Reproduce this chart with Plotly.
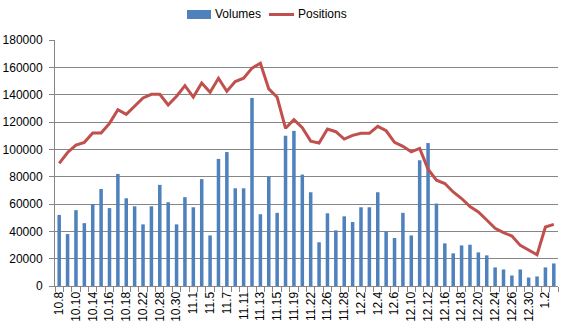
import plotly.graph_objects as go

dates = ["10.8", "10.9", "10.10", "10.11", "10.14", "10.15", "10.16", "10.17", "10.18", "10.21",
         "10.22", "10.24", "10.28", "10.29", "10.30", "10.31", "11.1", "11.4", "11.5", "11.6",
         "11.7", "11.8", "11.11", "11.12", "11.13", "11.14", "11.15", "11.18", "11.19", "11.20",
         "11.22", "11.25", "11.26", "11.27", "11.28", "11.29", "12.2", "12.3", "12.4", "12.5",
         "12.6", "12.9", "12.10", "12.11", "12.12", "12.13", "12.16", "12.17", "12.18", "12.19",
         "12.20", "12.23", "12.24", "12.25", "12.26", "12.27", "12.30", "12.31", "1.2", "1.3"]

volumes = [52000, 38000, 55500, 46000, 60000, 71000, 57000, 82000, 64200, 58300,
           45100, 58300, 74000, 61300, 45100, 65000, 57600, 78200, 37000, 93000,
           98000, 71500, 71500, 137600, 52500, 80000, 53500, 110000, 113500, 81500,
           68600, 32000, 53200, 40700, 51000, 46800, 57600, 57600, 68600, 39800,
           35100, 53500, 37000, 92000, 104600, 60300, 31200, 23900, 29700, 30200,
           24600, 22400, 13600, 12100, 7700, 12100, 6200, 7000, 13600, 16500]

positions = [89700, 97700, 103100, 105100, 111900, 111900, 119000, 129000, 125600, 131500,
             137600, 140300, 140300, 132500, 138900, 146600, 138200, 148600, 141800, 152000,
             142500, 149600, 152000, 159400, 163000, 144200, 138100, 115400, 121700, 115800,
             106000, 104600, 114900, 112900, 107500, 110200, 111700, 111700, 116800, 113600,
             105100, 102200, 98200, 100700, 85500, 77400, 75000, 68800, 64000, 58100,
             54200, 48300, 42200, 39000, 36600, 29700, 26000, 22900, 43200, 45100]

series_names = ["Volumes", "Positions"]
tick_text = [d if i % 2 == 0 else "" for i, d in enumerate(dates)]

FONT = "Liberation Sans, Arial, sans-serif"
GRID = "#868686"
BAR_C = "#4F81BD"
LINE_C = "#C0504D"

fig = go.Figure()
fig.add_trace(go.Bar(x=dates, y=volumes, name=series_names[0], marker_color=BAR_C,
                     marker_line_width=0, showlegend=False))
fig.add_trace(go.Scatter(x=dates, y=positions, name=series_names[1], mode="lines",
                         line=dict(color=LINE_C, width=3), showlegend=False))

W, H = 566, 332
ML, MR, MT, MB = 55, 8, 40, 46
PW, PH = W - ML - MR, H - MT - MB


def px(x):
    return (x - ML) / PW


def py(y):
    return (H - MB - y) / PH


# Legend drawn in paper coordinates (Excel-style wide swatch)
shapes = [
    dict(type="rect", xref="paper", yref="paper", x0=px(187), x1=px(211), y0=py(19), y1=py(10),
         fillcolor=BAR_C, line=dict(width=0)),
    dict(type="line", xref="paper", yref="paper", x0=px(269), x1=px(294), y0=py(14.5), y1=py(14.5),
         line=dict(color=LINE_C, width=3)),
]
annotations = [
    dict(text=series_names[0], xref="paper", yref="paper", x=px(213), y=py(14.5),
         xanchor="left", yanchor="middle", showarrow=False, font=dict(size=12)),
    dict(text=series_names[1], xref="paper", yref="paper", x=px(296), y=py(14.5),
         xanchor="left", yanchor="middle", showarrow=False, font=dict(size=12)),
]

fig.update_layout(
    width=W, height=H,
    margin=dict(l=ML, r=MR, t=MT, b=MB, autoexpand=False),
    paper_bgcolor="white", plot_bgcolor="white",
    font=dict(family=FONT, size=12, color="black"),
    bargap=0.58,
    showlegend=False,
    shapes=shapes,
    annotations=annotations,
)

fig.update_xaxes(type="category", tickmode="array", tickvals=dates, ticktext=tick_text,
                 tickangle=-90, tickson="boundaries", ticks="outside", ticklen=5,
                 tickcolor=GRID, showline=True, linecolor=GRID, linewidth=1,
                 showgrid=False, tickfont=dict(size=12), automargin=False)
fig.update_yaxes(range=[0, 180000], dtick=20000, tickformat="d", showgrid=True,
                 gridcolor=GRID, gridwidth=1, showline=True, linecolor=GRID,
                 ticks="outside", ticklen=5, tickcolor=GRID, zeroline=False,
                 ticklabelstandoff=4, tickfont=dict(size=12), automargin=False)

fig.write_html("out.html")
